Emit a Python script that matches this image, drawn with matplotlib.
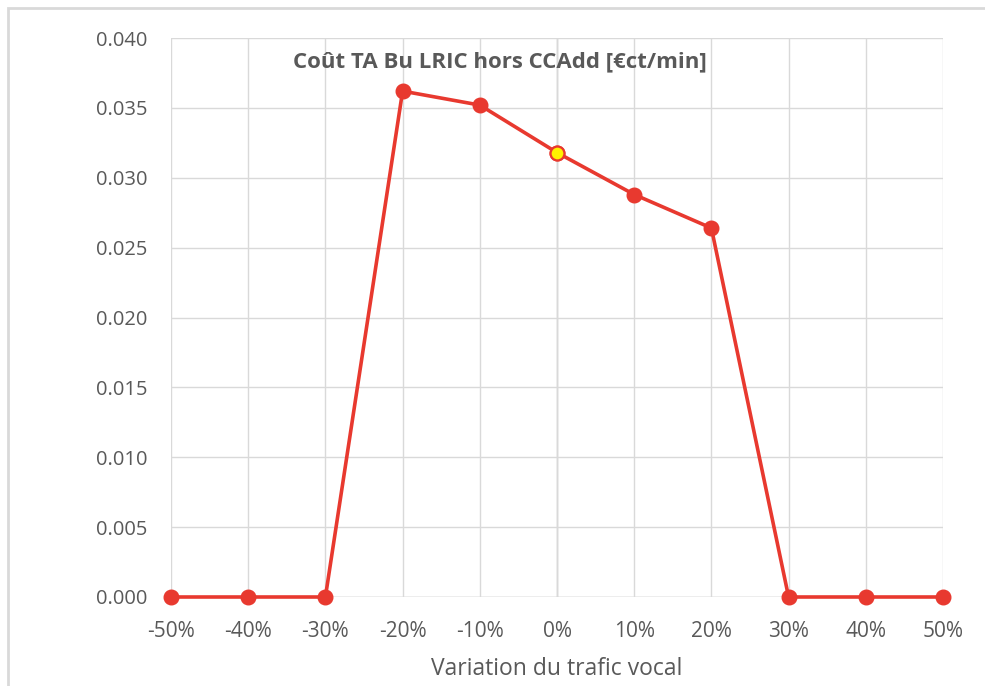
import matplotlib
matplotlib.use("Agg")
import matplotlib.pyplot as plt
from matplotlib.patches import Rectangle
from matplotlib.ticker import FuncFormatter, MultipleLocator

variation = [-50, -40, -30, -20, -10, 0, 10, 20, 30, 40, 50]
cost = [0.0, 0.0, 0.0, 0.0362, 0.0352, 0.0318, 0.0288, 0.0264, 0.0, 0.0, 0.0]
highlight_x = [0]
highlight_y = [0.0318]
title = "Coût TA Bu LRIC hors CCAdd [€ct/min]"
xlabel = "Variation du trafic vocal"

plt.rcParams['font.family'] = ['Open Sans', 'DejaVu Sans']

fig = plt.figure(figsize=(9.85, 6.86), dpi=100)
ax = fig.add_axes([171/985, 1-597/686, (943-171)/985, (597-38)/686])

red = '#E8392F'
grid = '#D9D9D9'
ax.plot(variation, cost, color=red, lw=2.6, marker='o', ms=10.5,
        markerfacecolor=red, markeredgecolor=red, zorder=3, clip_on=False)
ax.plot(highlight_x, highlight_y, ls='none', marker='o', ms=10,
        markerfacecolor='#FFF200', markeredgecolor=red, markeredgewidth=1.6,
        zorder=4, clip_on=False)

ax.set_xlim(-50, 50)
ax.set_ylim(0, 0.040)
ax.xaxis.set_major_locator(MultipleLocator(10))
ax.yaxis.set_major_locator(MultipleLocator(0.005))
ax.xaxis.set_major_formatter(FuncFormatter(lambda v, p: f"{int(round(v))}%"))
ax.yaxis.set_major_formatter(FuncFormatter(lambda v, p: f"{v:.3f}"))
ax.grid(True, color=grid, lw=1.0, zorder=0)
ax.axvline(0, color='#BFBFBF', lw=1.0, zorder=1)
for s in ax.spines.values():
    s.set_visible(False)
ax.axhline(0, color='#BFBFBF', lw=1.0, zorder=1)
ax.tick_params(axis='x', length=0, labelsize=15, labelcolor='#595959', pad=17)
ax.tick_params(axis='y', length=0, labelsize=14.5, labelcolor='#595959', pad=17)
ax.set_xlabel(xlabel, fontsize=16.5, color='#595959', labelpad=11)

ax.text(0.426, 0.958, title, transform=ax.transAxes, ha='center', va='center',
        fontsize=16, fontweight='bold', color='#595959', zorder=5)

fig.patches.append(Rectangle((8/985, -0.1), 1.2, (1-8/686) + 0.1, transform=fig.transFigure,
                             fill=False, edgecolor='#D9D9D9', lw=2))

fig.savefig('out.png', dpi=100)
